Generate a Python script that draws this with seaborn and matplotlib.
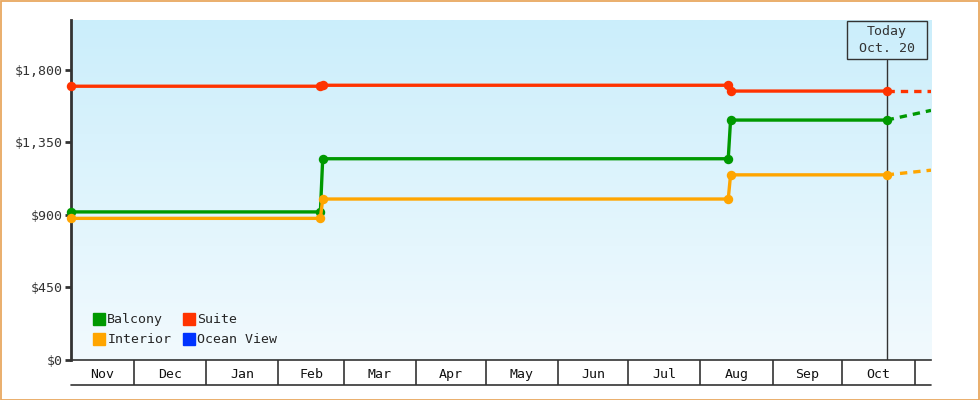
import numpy as np
import pandas as pd
import seaborn as sns
import matplotlib.pyplot as plt
import matplotlib.dates as mdates
from matplotlib.patches import Rectangle
from matplotlib.colors import LinearSegmentedColormap
from matplotlib.lines import Line2D
from matplotlib.transforms import blended_transform_factory

# price history per cabin (dates of each price point)
balcony_dates = ["2022-11-04", "2023-02-19", "2023-02-20", "2023-08-13", "2023-08-14", "2023-10-20"]
balcony_prices = [919, 919, 1249, 1249, 1489, 1489]
interior_dates = ["2022-11-04", "2023-02-19", "2023-02-20", "2023-08-13", "2023-08-14", "2023-10-20"]
interior_prices = [879, 879, 999, 999, 1149, 1149]
suite_dates = ["2022-11-04", "2023-02-19", "2023-02-20", "2023-08-13", "2023-08-14", "2023-10-20"]
suite_prices = [1699, 1699, 1705, 1705, 1669, 1669]

# projected trend after today
proj_dates = ["2023-10-20", "2023-11-08"]
balcony_proj = [1489, 1549]
interior_proj = [1149, 1178]
suite_proj = [1669, 1669]

month_starts = ["2022-11-01", "2022-12-01", "2023-01-01", "2023-02-01", "2023-03-01",
                "2023-04-01", "2023-05-01", "2023-06-01", "2023-07-01", "2023-08-01",
                "2023-09-01", "2023-10-01", "2023-11-01"]
month_labels = ["Nov", "Dec", "Jan", "Feb", "Mar", "Apr", "May", "Jun", "Jul", "Aug", "Sep", "Oct"]
yticks = [0, 450, 900, 1350, 1800]
today = "2023-10-20"
x_start, x_end = "2022-11-04", "2023-11-08"

colors = {"Balcony": "#009900", "Interior": "#FFA500", "Suite": "#FF3300", "Ocean View": "#0033FF"}
dark = "#333333"

sns.set_style("white")
plt.rcParams["font.family"] = ["DejaVu Sans Mono"]
plt.rcParams["font.size"] = 9.5

fig = plt.figure(figsize=(9.8, 4), dpi=100)
ax = fig.add_axes([71 / 980, 40 / 400, 860 / 980, 340 / 400])

# gradient background
grad = LinearSegmentedColormap.from_list("bg", ["#F2FAFE", "#CBEEFB"])
ax.imshow(np.linspace(0, 1, 256).reshape(-1, 1), cmap=grad, aspect="auto",
          extent=[0, 1, 0, 1], transform=ax.transAxes, origin="lower", zorder=0)

series = [("Balcony", balcony_dates, balcony_prices, balcony_proj),
          ("Interior", interior_dates, interior_prices, interior_proj),
          ("Suite", suite_dates, suite_prices, suite_proj)]
for name, d, p, proj in series:
    df = pd.DataFrame({"date": pd.to_datetime(d), "price": p})
    sns.lineplot(data=df, x="date", y="price", ax=ax, color=colors[name], lw=2.4,
                 marker="o", markersize=6.8, markeredgewidth=0, sort=False,
                 estimator=None, clip_on=False, zorder=3)
    pj = pd.DataFrame({"date": pd.to_datetime(proj_dates), "price": proj})
    sns.lineplot(data=pj, x="date", y="price", ax=ax, color=colors[name], lw=2.4,
                 dashes=(2.2, 1.8), sort=False, estimator=None, zorder=3)

ax.set_xlim(pd.Timestamp(x_start), pd.Timestamp(x_end))
ax.set_ylim(0, 2110)

# today marker
t = mdates.date2num(pd.Timestamp(today))
bt = blended_transform_factory(ax.transData, ax.transAxes)
ax.plot([t, t], [0, 0.882], color=dark, lw=1, transform=bt, zorder=2)
ax.text(t, 0.941, "Today\n Oct. 20 ", transform=bt, ha="center", va="center",
        multialignment="center", color=dark, fontsize=9.5, linespacing=1.35,
        bbox=dict(boxstyle="square,pad=0.3", fc="none", ec=dark, lw=1), zorder=4)

# y axis
ax.set_yticks(yticks)
ax.set_yticklabels([f"${v:,}" for v in yticks], color=dark)
ax.tick_params(axis="y", left=True, length=4, width=2, color=dark, pad=2)

# month cells under the axis
bounds = [mdates.date2num(pd.Timestamp(m)) for m in month_starts]
xs, xe = mdates.date2num(pd.Timestamp(x_start)), mdates.date2num(pd.Timestamp(x_end))
centers = [(max(a, xs) + min(b, xe)) / 2 for a, b in zip(bounds[:-1], bounds[1:])]
ax.set_xticks(bounds[1:])
ax.set_xticklabels([])
ax.set_xticks(centers, minor=True)
ax.set_xticklabels(month_labels, minor=True, color="#111111")
ax.tick_params(axis="x", which="major", bottom=True, direction="out", length=18, width=1.2, color=dark)
ax.tick_params(axis="x", which="minor", bottom=True, length=0, pad=6)
ax.plot([0, 1], [-25 / 340, -25 / 340], color=dark, lw=1.2, transform=ax.transAxes, clip_on=False)
ax.set_xlabel("")
ax.set_ylabel("")

for s in ["top", "right"]:
    ax.spines[s].set_visible(False)
ax.spines["left"].set_color(dark)
ax.spines["left"].set_linewidth(2)
ax.spines["bottom"].set_color(dark)
ax.spines["bottom"].set_linewidth(1.2)

# legend
order = ["Balcony", "Interior", "Suite", "Ocean View"]
handles = [Line2D([], [], ls="none", marker="s", markersize=8, color=colors[n]) for n in order]
ax.legend(handles, order, ncol=2, loc="lower left", bbox_to_anchor=(0.01, 0.005), frameon=False,
          handletextpad=0.0, columnspacing=0.75, labelspacing=0.55, handlelength=1.2, fontsize=9.5)

fig.patches.append(Rectangle((0.0008, 0.0012), 0.998, 0.997, transform=fig.transFigure,
                             fill=False, ec="#E8A860", lw=1.3))

fig.savefig("out.png", dpi=100)
